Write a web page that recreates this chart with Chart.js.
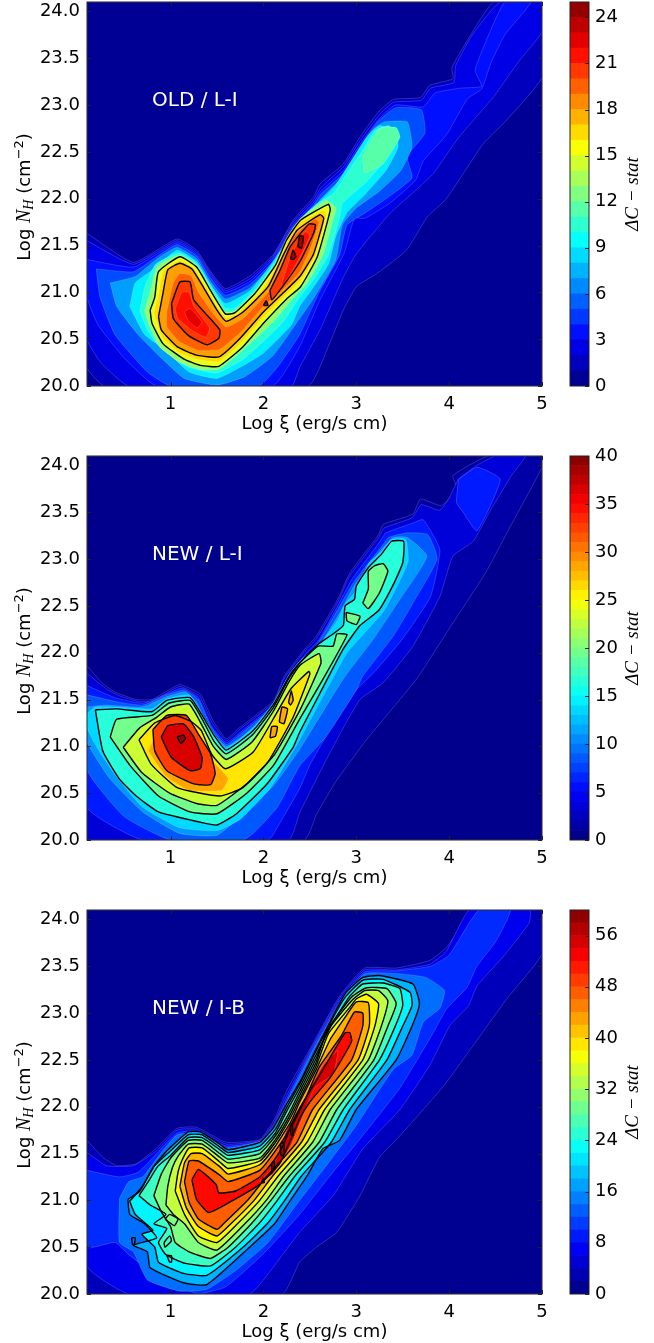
<!DOCTYPE html>
<html>
<head>
<meta charset="utf-8">
<script src="https://cdn.jsdelivr.net/npm/chart.js@4"></script>
<style>
  html, body { margin: 0; background: #fff; }
  canvas { position: absolute; }
</style>
</head>
<body>
<canvas id="old" width="560" height="435" style="left:0;top:0"></canvas>
<canvas id="oldBar" width="94" height="445" style="left:560px;top:-10px"></canvas>
<canvas id="new" width="560" height="435" style="left:0;top:454px"></canvas>
<canvas id="newBar" width="94" height="445" style="left:560px;top:444px"></canvas>
<canvas id="ib" width="560" height="435" style="left:0;top:908px"></canvas>
<canvas id="ibBar" width="94" height="445" style="left:560px;top:898px"></canvas>
<script>
// axis ticks
const xTickValues = [1, 2, 3, 4, 5];
const yTickValues = [20, 20.5, 21, 21.5, 22, 22.5, 23, 23.5, 24];
const oldBarTicks = [0, 3, 6, 9, 12, 15, 18, 21, 24];
const newBarTicks = [0, 5, 10, 15, 20, 25, 30, 35, 40];
const ibBarTicks = [0, 8, 16, 24, 32, 40, 48, 56];

const plotCorners = [[0.1,20],[5,20],[5,24.1],[0.1,24.1]];

// contours, [log xi, log NH] per vertex

// OLD / L-I
const old1 = [[.1,21.63],[.6,21.32],[1.07,21.57],[1.28,21.45],[1.42,21.24],[1.59,21.04],[1.86,21.18],[2.11,21.41],[2.32,21.77],[2.54,22.02],[2.61,22.16],[2.86,22.37],[3.04,22.66],[3.25,22.94],[3.4,23.06],[3.69,23.08],[3.79,23.21],[4.04,23.28],[4.03,23.4],[4.22,23.73],[4.48,24.1],[5,24.1],[5,23.3],[4.62,22.84],[4.37,22.59],[3.97,22],[3.76,21.8],[3.54,21.45],[3.22,21.2],[3,21.06],[2.86,20.81],[2.71,20.45],[2.48,20],[.29,20],[.1,20.2]];
const old2 = [[.1,21.55],[.6,21.3],[1.07,21.55],[1.28,21.43],[1.42,21.22],[1.59,21.02],[1.86,21.15],[2.1,21.38],[2.32,21.75],[2.54,21.99],[2.62,22.12],[2.86,22.34],[3.04,22.62],[3.25,22.9],[3.4,23.03],[3.7,23.05],[3.8,23.18],[4.05,23.24],[4.07,23.42],[4.25,23.75],[4.55,24.1],[5,24.1],[5,23.78],[4.76,23.48],[4.48,23.09],[4.1,22.65],[3.83,22.27],[3.65,22.1],[3.36,21.84],[3,21.41],[2.86,21.16],[2.61,20.6],[2.39,20.2],[2.3,20],[.55,20],[.25,20.25],[.1,20.5]];
const old3 = [[.1,21.35],[.6,21.27],[1.07,21.53],[1.28,21.41],[1.42,21.2],[1.59,21],[1.86,21.12],[2.1,21.36],[2.32,21.72],[2.54,21.96],[2.62,22.08],[2.86,22.3],[3.04,22.58],[3.25,22.86],[3.42,23],[3.72,22.98],[3.85,23.13],[4.12,23.18],[4.35,23.2],[4.28,23.37],[4.4,23.69],[4.6,24.1],[4.88,24.1],[4.6,23.75],[4.45,23.45],[4.35,23.17],[4.2,23.07],[3.97,22.68],[3.72,22.4],[3.64,22.2],[3.36,21.95],[3.09,21.79],[2.98,21.79],[2.87,21.42],[2.6,20.9],[2.39,20.42],[2.1,20],[.85,20],[.5,20.3],[.22,20.65],[.1,20.95]];
const old4 = [[.2,21.25],[.6,21.22],[.85,21.38],[1.07,21.51],[1.28,21.39],[1.42,21.17],[1.59,20.97],[1.86,21.09],[2.1,21.33],[2.32,21.7],[2.54,21.93],[2.62,22.05],[2.85,22.26],[3.03,22.54],[3.23,22.82],[3.42,22.97],[3.7,22.95],[3.74,22.7],[3.55,22.45],[3.6,22.22],[3.35,22.02],[3.1,21.85],[2.9,21.72],[2.82,21.4],[2.6,21],[2.39,20.55],[2.15,20.2],[1.95,20],[1,20],[.75,20.15],[.4,20.55],[.24,20.95]];
const old6 = [[.35,21.1],[.62,21.17],[.87,21.37],[1.07,21.48],[1.28,21.36],[1.42,21.13],[1.59,20.93],[1.86,21.05],[2.1,21.3],[2.32,21.66],[2.54,21.88],[2.62,22],[2.82,22.2],[3,22.48],[3.18,22.74],[3.3,22.82],[3.55,22.82],[3.6,22.55],[3.48,22.3],[3.25,22.08],[3,21.9],[2.85,21.72],[2.78,21.35],[2.55,20.95],[2.39,20.72],[2.1,20.32],[1.8,20.1],[1.5,20.01],[1.15,20.08],[.9,20.3],[.65,20.55],[.42,20.85]];
const old8 = [[.56,20.85],[.62,21.1],[.82,21.25],[1.07,21.45],[1.28,21.33],[1.42,21.1],[1.59,20.88],[1.86,21.02],[2.12,21.35],[2.3,21.62],[2.5,21.85],[2.6,21.96],[2.78,22.15],[2.96,22.42],[3.12,22.67],[3.25,22.78],[3.42,22.72],[3.45,22.55],[3.32,22.3],[3.1,22.05],[2.9,21.85],[2.78,21.6],[2.7,21.3],[2.5,21],[2.39,20.85],[2.3,20.65],[2,20.35],[1.75,20.2],[1.5,20.08],[1.2,20.15],[.95,20.38],[.72,20.55]];
const old10 = [[.67,20.8],[.72,21.05],[.84,21.3],[1.09,21.42],[1.28,21.31],[1.43,21.07],[1.59,20.83],[1.69,20.83],[1.91,21.03],[2.13,21.33],[2.27,21.6],[2.42,21.8],[2.58,21.95],[2.75,22.05],[2.92,22.3],[3.06,22.5],[3.2,22.72],[3.35,22.78],[3.47,22.66],[3.3,22.4],[3.1,22.17],[2.85,21.95],[2.82,21.8],[2.7,21.4],[2.55,21.15],[2.39,20.95],[2.2,20.67],[1.8,20.3],[1.5,20.14],[1.2,20.2],[.9,20.4],[.75,20.6]];
const old11 = [[3.09,22.27],[3.07,22.44],[3.25,22.75],[3.43,22.76],[3.47,22.66],[3.29,22.37]];
const old12 = [[.72,20.8],[.78,21],[.86,21.28],[1.1,21.4],[1.28,21.29],[1.43,21.04],[1.59,20.79],[1.69,20.8],[1.91,21.01],[2.13,21.31],[2.25,21.58],[2.4,21.79],[2.68,21.98],[2.78,21.9],[2.75,21.78],[2.64,21.4],[2.47,21.1],[2.33,20.95],[2.1,20.68],[1.75,20.36],[1.52,20.18],[1.3,20.18],[1.1,20.25],[.88,20.42],[.77,20.65]];
const old14 = [[.78,20.81],[.83,20.95],[.87,21.22],[1.1,21.38],[1.28,21.27],[1.43,21.02],[1.59,20.77],[1.69,20.78],[1.91,20.99],[2.13,21.29],[2.25,21.56],[2.4,21.77],[2.7,21.94],[2.72,21.88],[2.58,21.38],[2.4,21.06],[2.25,20.93],[2,20.67],[1.78,20.42],[1.52,20.21],[1.32,20.22],[1.14,20.29],[.92,20.45],[.8,20.67]];
const old16 = [[.82,20.78],[.87,20.98],[.92,21.23],[1.1,21.34],[1.25,21.26],[1.39,21.04],[1.54,20.79],[1.6,20.73],[1.73,20.78],[1.98,21.02],[2.18,21.35],[2.33,21.7],[2.65,21.88],[2.68,21.83],[2.56,21.39],[2.4,21.12],[2.23,20.96],[2,20.73],[1.76,20.46],[1.52,20.26],[1.3,20.28],[1.1,20.35],[.91,20.52]];
const old17 = [[.87,20.74],[.92,21],[.97,21.24],[1.1,21.31],[1.23,21.25],[1.35,21.06],[1.5,20.81],[1.6,20.69],[1.78,20.79],[2.05,21.06],[2.22,21.41],[2.36,21.66],[2.61,21.83],[2.65,21.79],[2.54,21.41],[2.4,21.18],[2.22,21],[2,20.79],[1.75,20.51],[1.52,20.31],[1.28,20.33],[1.07,20.42],[.9,20.6]];
const old19 = [[.96,20.8],[1.03,21.1],[1.1,21.2],[1.22,21.18],[1.3,21],[1.47,20.76],[1.6,20.63],[1.78,20.72],[2.05,21],[2.2,21.3],[2.33,21.6],[2.55,21.78],[2.6,21.75],[2.5,21.45],[2.38,21.2],[2.2,21.02],[2,20.85],[1.75,20.57],[1.53,20.39],[1.3,20.38],[1.1,20.47],[.96,20.63]];
const old20a = [[1.01,20.88],[1.1,21.11],[1.21,21.11],[1.25,20.92],[1.53,20.6],[1.52,20.51],[1.39,20.44],[1.19,20.54],[1.03,20.72]];
const old20b = [[2.07,21.02],[2.18,21.24],[2.29,21.49],[2.49,21.73],[2.56,21.72],[2.54,21.63],[2.4,21.34],[2.22,21.08],[2.09,20.92]];
const old21a = [[1.05,20.82],[1.12,21],[1.2,21],[1.25,20.85],[1.42,20.62],[1.38,20.52],[1.22,20.6],[1.08,20.72]];
const old21b = [[2.2,21.1],[2.3,21.4],[2.45,21.65],[2.5,21.6],[2.38,21.35],[2.2,21.05]];
const old22 = [[1.15,20.79],[1.21,20.83],[1.34,20.68],[1.28,20.62],[1.19,20.7]];
const old23a = [[2.29,21.36],[2.32,21.45],[2.35,21.38],[2.32,21.35]];
const old23b = [[2.37,21.49],[2.39,21.6],[2.43,21.6],[2.41,21.47]];
const old23c = [[2,20.86],[2.03,20.91],[2.05,20.86]];

// NEW / L-I
const new1 = [[.1,21.86],[.27,21.67],[.4,21.58],[.63,21.5],[.8,21.5],[.96,21.59],[1.1,21.66],[1.32,21.56],[1.39,21.42],[1.46,21.27],[1.6,21.08],[1.73,21.19],[2.11,21.49],[2.22,21.74],[2.43,22.02],[2.57,22.18],[2.8,22.57],[2.93,22.85],[3.24,23.26],[3.29,23.37],[3.61,23.48],[3.69,23.64],[3.92,23.57],[4.08,23.76],[4.04,23.89],[4.42,24.1],[5,24.1],[5,23.98],[4.66,23.35],[4.39,22.85],[3.97,22.21],[3.65,21.72],[3.11,21.07],[2.77,20.61],[2.57,20.27],[2.44,20],[.1,20]];
const new2 = [[.1,21.78],[.3,21.62],[.45,21.54],[.65,21.48],[.8,21.48],[.96,21.57],[1.1,21.64],[1.31,21.54],[1.38,21.4],[1.45,21.25],[1.6,21.06],[1.73,21.17],[2.11,21.47],[2.22,21.72],[2.43,22],[2.57,22.15],[2.8,22.54],[2.93,22.82],[3.24,23.23],[3.3,23.33],[3.6,23.44],[3.7,23.58],[3.9,23.52],[4,23.65],[4.1,23.85],[4.3,24],[4.5,24.1],[4.82,24.1],[4.67,23.89],[4.44,23.51],[4.26,23.19],[4.04,23.03],[3.9,22.6],[3.61,22.07],[3.29,21.68],[3.04,21.5],[2.79,21.07],[2.57,20.65],[2.39,20.29],[2.27,20],[.1,20]];
const new5 = [[.1,21.65],[.4,21.52],[.7,21.46],[.96,21.56],[1.12,21.62],[1.3,21.52],[1.44,21.22],[1.6,21.04],[1.75,21.15],[2.11,21.45],[2.25,21.72],[2.45,21.98],[2.6,22.14],[2.8,22.5],[2.95,22.78],[3.25,23.18],[3.32,23.28],[3.6,23.38],[3.72,23.42],[3.9,23.1],[3.8,22.6],[3.5,22.15],[3.2,21.8],[2.95,21.55],[2.7,21.15],[2.5,20.8],[2.39,20.55],[2.1,20.05],[2.05,20],[.7,20],[.1,20.35]];
const new5b = [[4.1,23.85],[4.3,23.98],[4.55,23.85],[4.3,23.3],[4.15,23.5],[4.08,23.6]];
const new7 = [[.1,21.55],[.4,21.48],[.7,21.44],[.96,21.55],[1.14,21.6],[1.3,21.5],[1.44,21.2],[1.6,21.02],[1.75,21.13],[2.11,21.43],[2.27,21.72],[2.47,21.97],[2.6,22.12],[2.8,22.46],[2.97,22.75],[3.27,23.13],[3.35,23.23],[3.55,23.28],[3.77,23.26],[3.87,23],[3.61,22.53],[3.4,22.18],[3.07,21.75],[3,21.6],[2.68,21.11],[2.39,20.79],[2.15,20.35],[1.9,20.08],[1.78,20],[1,20],[.5,20.25],[.1,20.75]];
const new10 = [[.1,21.42],[.3,21.44],[.7,21.42],[.96,21.53],[1.16,21.58],[1.28,21.47],[1.42,21.18],[1.6,21],[1.78,21.11],[2.11,21.41],[2.28,21.72],[2.5,21.96],[2.62,22.1],[2.82,22.42],[2.98,22.72],[3.27,23.1],[3.4,23.23],[3.55,23.23],[3.76,23.03],[3.47,22.57],[3.18,22.14],[2.86,21.72],[2.39,20.97],[2.1,20.57],[1.8,20.3],[1.5,20.05],[1.1,20.07],[.7,20.3],[.35,20.65],[.1,21.05]];
const new12 = [[.1,21.35],[.19,21.42],[.42,21.42],[.8,21.4],[.96,21.51],[1.2,21.55],[1.33,21.36],[1.47,21.13],[1.6,20.98],[1.89,21.2],[2.11,21.47],[2.29,21.79],[2.4,21.92],[2.61,22.09],[2.8,22.35],[2.88,22.52],[2.99,22.65],[3.13,22.95],[3.27,23.08],[3.38,23.21],[3.53,23.21],[3.56,22.98],[3.45,22.73],[3.3,22.45],[3.08,22.2],[2.9,22],[2.65,21.55],[2.39,21.07],[2.07,20.55],[1.75,20.22],[1.5,20.1],[1.1,20.13],[.7,20.35],[.4,20.7],[.2,21],[.1,21.2]];
const new15 = [[.19,21.39],[.42,21.4],[.8,21.37],[.96,21.49],[1.21,21.52],[1.34,21.33],[1.48,21.1],[1.6,20.96],[1.89,21.17],[2.11,21.45],[2.29,21.77],[2.4,21.9],[2.59,22.09],[2.75,22.2],[2.86,22.29],[2.88,22.5],[2.98,22.57],[3,22.71],[3.13,22.91],[3.27,23.05],[3.38,23.19],[3.51,23.19],[3.5,22.96],[3.4,22.73],[3.24,22.45],[3.04,22.29],[2.86,22.04],[2.61,21.57],[2.39,21.15],[2.32,20.99],[2.04,20.6],[1.71,20.28],[1.5,20.16],[1.32,20.19],[.87,20.3],[.63,20.47],[.45,20.65],[.27,20.95]];
const new18 = [[.35,21.1],[.42,21.29],[.8,21.33],[.98,21.46],[1.21,21.49],[1.34,21.29],[1.47,21.05],[1.6,20.92],[1.88,21.12],[2.11,21.42],[2.27,21.72],[2.4,21.9],[2.59,22.07],[2.75,22.07],[2.79,22.2],[2.9,22.19],[2.62,21.68],[2.39,21.29],[2.11,20.8],[1.82,20.5],[1.5,20.28],[1.21,20.3],[.87,20.47],[.56,20.8]];
const new18b = [[2.89,22.43],[3.04,22.39],[3,22.3],[2.9,22.34]];
const new18c = [[3.07,22.53],[3.13,22.68],[3.13,22.87],[3.2,22.93],[3.29,22.95],[3.34,22.87],[3.25,22.64],[3.13,22.47]];
const new21 = [[.49,20.99],[.67,21.2],[.85,21.31],[1,21.42],[1.2,21.45],[1.33,21.24],[1.46,21],[1.6,20.86],[1.88,21.05],[2.11,21.38],[2.27,21.68],[2.4,21.87],[2.6,21.99],[2.62,21.89],[2.4,21.4],[2.11,20.9],[1.82,20.6],[1.5,20.37],[1.28,20.39],[.99,20.5],[.69,20.72]];
const new25 = [[.66,21.07],[.83,21.25],[1.05,21.33],[1.23,21.26],[1.33,21.17],[1.44,20.92],[1.59,20.76],[1.89,20.94],[2.11,21.3],[2.3,21.62],[2.49,21.8],[2.5,21.77],[2.32,21.31],[2.04,20.82],[1.78,20.56],[1.53,20.47],[1.07,20.56],[.79,20.81]];
const new27 = [[.76,20.95],[.92,21.28],[1.1,21.32],[1.25,21.2],[1.4,20.9],[1.62,20.66],[1.55,20.53],[1.2,20.53],[.95,20.68]];
const new27a = [[2.07,21.09],[2.09,21.21],[2.15,21.21],[2.13,21.11]];
const new27b = [[2.17,21.26],[2.2,21.42],[2.26,21.4],[2.22,21.24]];
const new27c = [[2.27,21.47],[2.3,21.59],[2.32,21.49],[2.29,21.44]];
const new30 = [[.81,21.18],[.96,21.33],[1.17,21.33],[1.3,21.13],[1.43,20.92],[1.48,20.71],[1.43,20.59],[1.25,20.6],[.96,20.74],[.83,20.95]];
const new35 = [[.9,21.1],[.97,21.22],[1.14,21.24],[1.25,21.1],[1.34,20.88],[1.32,20.76],[1.21,20.74],[1.01,20.88],[.93,21.03]];
const new38 = [[1.07,21.1],[1.14,21.12],[1.16,21.08],[1.11,21.03]];

// NEW / I-B
const ib2 = [[.1,21.64],[.27,21.46],[.42,21.37],[.63,21.39],[.85,21.56],[1.07,21.77],[1.28,21.78],[1.6,21.62],[1.96,21.65],[2.11,21.85],[2.25,22.17],[2.53,22.67],[2.82,23.18],[3.09,23.48],[3.43,23.48],[3.79,23.56],[3.97,23.7],[4.28,24.1],[5,24.1],[5,23.63],[4.62,23.15],[4.22,22.6],[3.94,22.22],[3.47,21.69],[3.25,21.46],[3.04,21.05],[2.79,20.66],[2.57,20.5],[2.39,20.34],[2.2,20],[.1,20]];
const ib5 = [[.1,21.51],[.31,21.37],[.6,21.37],[.85,21.53],[1.07,21.75],[1.28,21.76],[1.6,21.6],[1.96,21.64],[2.11,21.82],[2.25,22.12],[2.53,22.65],[2.82,23.16],[3.09,23.46],[3.43,23.46],[3.79,23.52],[3.97,23.66],[4.22,24.1],[4.87,24.1],[4.86,23.96],[4.58,23.6],[4.3,23.29],[4.21,23.08],[4.01,22.87],[3.79,22.44],[3.47,21.97],[3.07,21.55],[2.75,21.05],[2.39,20.66],[2,20.15],[1.85,20],[.55,20],[.1,20.3]];
const ib8 = [[.1,21.32],[.45,21.25],[.65,21.3],[.85,21.5],[1.07,21.72],[1.28,21.74],[1.6,21.58],[1.96,21.63],[2.11,21.8],[2.25,22.08],[2.53,22.63],[2.82,23.13],[3.09,23.44],[3.43,23.45],[3.8,23.5],[4,23.62],[4.32,24.1],[4.66,24.1],[4.5,23.76],[4.3,23.5],[4.19,23.27],[3.97,23.04],[3.83,22.79],[3.47,22.2],[3.06,21.68],[2.7,21.24],[2.39,20.85],[2,20.43],[1.6,20.08],[1.3,20],[.85,20.2],[.55,20.42],[.4,20.55],[.1,20.5]];
const ib12 = [[.45,21.02],[.55,21.2],[.7,21.25],[.87,21.47],[1.07,21.7],[1.28,21.71],[1.6,21.56],[1.96,21.63],[2.11,21.78],[2.25,22.05],[2.53,22.6],[2.82,23.1],[3.09,23.42],[3.45,23.42],[3.75,23.38],[3.95,23.24],[3.9,23.05],[3.72,22.9],[3.6,22.55],[3.4,22.4],[3,21.8],[2.7,21.4],[2.39,21],[2.05,20.55],[1.7,20.25],[1.39,20.05],[1.1,20.03],[.75,20.15],[.6,20.45],[.45,20.55]];
const ib16 = [[.54,21.01],[.67,21.1],[.81,21.35],[.96,21.53],[1.19,21.73],[1.32,21.73],[1.53,21.6],[1.62,21.54],[1.96,21.62],[2.11,21.78],[2.25,22.03],[2.39,22.26],[2.57,22.62],[2.75,22.97],[2.89,23.22],[3.07,23.38],[3.25,23.4],[3.61,23.31],[3.68,23.1],[3.6,22.86],[3.43,22.5],[3,21.97],[2.82,21.64],[2.64,21.55],[2.47,21.26],[2.29,21],[2.12,20.75],[1.85,20.5],[1.39,20.1],[1.14,20.12],[.78,20.28],[.75,20.45],[.6,20.52],[.85,20.6],[.72,20.75],[.56,20.85]];
const ib20 = [[.56,20.99],[.69,21.14],[.83,21.37],[.98,21.51],[1.19,21.7],[1.34,21.7],[1.53,21.57],[1.62,21.51],[1.96,21.58],[2.13,21.76],[2.25,21.99],[2.39,22.24],[2.57,22.6],[2.75,22.95],[2.89,23.18],[3.07,23.35],[3.29,23.36],[3.58,23.22],[3.6,23.08],[3.5,22.86],[3.33,22.5],[2.93,21.97],[2.73,21.62],[2.41,21.26],[2.23,21],[2.04,20.75],[1.78,20.5],[1.39,20.2],[1.14,20.22],[.87,20.34],[.83,20.5],[.69,20.64],[.81,20.68],[.62,20.85]];
const ib24 = [[.66,21.05],[.76,21.2],[.86,21.36],[1,21.48],[1.19,21.67],[1.34,21.67],[1.53,21.54],[1.62,21.48],[1.96,21.54],[2.13,21.72],[2.25,21.95],[2.39,22.2],[2.57,22.56],[2.75,22.9],[2.93,23.18],[3.07,23.31],[3.29,23.32],[3.47,23.26],[3.5,23.08],[3.42,22.86],[3.25,22.5],[2.86,21.97],[2.66,21.62],[2.34,21.26],[2.15,21],[1.95,20.75],[1.7,20.5],[1.43,20.3],[1.15,20.33],[.95,20.42],[.87,20.55],[.96,20.7],[.82,20.75],[.95,20.85],[.78,20.95]];
const ib28 = [[.82,21.05],[.9,21.28],[1,21.45],[1.19,21.64],[1.34,21.64],[1.53,21.5],[1.62,21.44],[1.96,21.5],[2.13,21.69],[2.27,21.92],[2.39,22.16],[2.57,22.52],[2.71,22.85],[2.95,23.17],[3.11,23.27],[3.33,23.26],[3.43,23.1],[3.34,22.86],[3.19,22.5],[2.79,21.97],[2.6,21.62],[2.28,21.26],[2.08,21],[1.87,20.75],[1.62,20.5],[1.43,20.38],[1.2,20.45],[1.05,20.55],[1,20.72],[.9,20.88]];
const ib32 = [[.95,20.95],[.97,21.15],[1.02,21.35],[1.08,21.47],[1.19,21.6],[1.34,21.6],[1.53,21.46],[1.62,21.4],[1.96,21.45],[2.13,21.65],[2.28,21.9],[2.39,22.12],[2.57,22.48],[2.68,22.8],[2.95,23.13],[3.09,23.24],[3.24,23.24],[3.34,23.13],[3.27,22.86],[3.13,22.5],[2.72,21.97],[2.53,21.62],[2.22,21.26],[2.03,21],[1.8,20.75],[1.5,20.47],[1.3,20.55],[1.15,20.75],[1.03,20.85]];
const ib36 = [[1.05,21.1],[1.08,21.3],[1.12,21.42],[1.2,21.56],[1.34,21.56],[1.53,21.41],[1.62,21.34],[1.96,21.42],[2.13,21.62],[2.29,21.88],[2.39,22.08],[2.57,22.44],[2.7,22.78],[2.93,23.06],[3,23.15],[3.11,23.2],[3.24,23.1],[3.2,22.86],[3.07,22.5],[2.66,21.97],[2.47,21.62],[2.16,21.26],[1.96,21],[1.72,20.75],[1.5,20.55],[1.3,20.62],[1.15,20.85]];
const ib40 = [[1.1,21.15],[1.15,21.4],[1.22,21.5],[1.34,21.5],[1.53,21.36],[1.62,21.28],[1.96,21.38],[2.13,21.58],[2.3,21.85],[2.39,22.05],[2.57,22.4],[2.72,22.72],[2.89,22.97],[3,23.12],[3.13,23.11],[3.14,22.86],[3.02,22.5],[2.6,21.97],[2.41,21.62],[2.1,21.26],[1.9,21],[1.65,20.75],[1.5,20.62],[1.3,20.72],[1.17,20.92]];
const ib44 = [[1.15,21.2],[1.2,21.42],[1.3,21.42],[1.53,21.27],[1.62,21.2],[1.96,21.32],[2.13,21.53],[2.32,21.82],[2.45,22.08],[2.6,22.42],[2.84,22.76],[2.98,23.01],[3.07,23],[3.07,22.86],[2.95,22.5],[2.53,21.97],[2.36,21.62],[2.04,21.26],[1.83,21],[1.57,20.75],[1.5,20.69],[1.3,20.8],[1.2,20.98]];
const ib50 = [[1.23,21.22],[1.3,21.33],[1.49,21.17],[1.52,21.08],[1.7,21.1],[1.96,21.25],[2.11,21.42],[2.22,21.6],[2.29,21.78],[2.4,22],[2.6,22.33],[2.75,22.58],[2.88,22.79],[2.93,22.79],[2.95,22.7],[2.84,22.5],[2.71,22.3],[2.5,22.05],[2.39,21.87],[2.18,21.4],[1.96,21.17],[1.6,20.96],[1.41,20.87],[1.28,21.01]];
const ib54 = [[1.96,21.2],[2.1,21.35],[2.25,21.75],[2.45,22.1],[2.65,22.45],[2.8,22.6],[2.75,22.35],[2.55,22.2],[2.3,21.6],[2.1,21.28]];
const ibIslandA = [[.94,20.8],[.99,20.85],[1.08,20.8],[1.04,20.73]];
const ibIslandB = [[.93,20.55],[.99,20.62],[1.01,20.57],[.94,20.5]];
const ibIslandC = [[.96,20.41],[1.01,20.41],[1.01,20.34],[.99,20.34]];
const ibIslandD = [[.58,20.6],[.62,20.6],[.61,20.53],[.59,20.53]];
const ibPeakA = [[2.29,21.81],[2.31,21.82],[2.32,21.69],[2.3,21.69]];
const ibPeakB = [[2.18,21.6],[2.22,21.62],[2.22,21.49],[2.19,21.48]];
const ibPeakC = [[2.09,21.4],[2.12,21.42],[2.11,21.32],[2.09,21.32]];
const ibPeakD = [[2,21.24],[1.98,21.19],[2.01,21.19]];

// [contour value, polygon], filled from the lowest up
const oldBands = [[0,plotCorners],[1,old1],[2,old2],[3,old3],[4,old4],[6,old6],[8,old8],[10,old10],[11,old11],[12,old12],[14,old14],[16,old16],[17,old17],[19,old19],[20,old20a],[20,old20b],[21,old21a],[21,old21b],[22,old22],[23,old23a],[23,old23b],[23,old23c]];
const newBands = [[0,plotCorners],[1,new1],[2,new2],[5,new5],[5,new5b],[7,new7],[10,new10],[12,new12],[15,new15],[18,new18],[18,new18b],[18,new18c],[21,new21],[25,new25],[27,new27],[27,new27a],[27,new27b],[27,new27c],[30,new30],[35,new35],[38,new38]];
const ibBands = [[0,plotCorners],[2,ib2],[5,ib5],[8,ib8],[12,ib12],[16,ib16],[20,ib20],[24,ib24],[28,ib28],[32,ib32],[36,ib36],[40,ib40],[44,ib44],[50,ib50],[54,ib54],[56,ibPeakA],[56,ibPeakB],[56,ibPeakC],[56,ibPeakD]];

// black contours
const oldBlack = [old14, old17, old20a, old20b, old23a, old23b, old23c];
const newBlack = [new15, new18, new18b, new18c, new21, new25, new27a, new27b, new27c, new30, new35, new38];
const ibBlack = [ib16, ib20, ib24, ib28, ib32, ib36, ib40, ib44, ib50, ibIslandA, ibIslandB, ibIslandC, ibIslandD, ibPeakA, ibPeakB, ibPeakC, ibPeakD];

const FONT = '"DejaVu Sans"';
const MATH = '"Liberation Serif"';

function jet(t) {
    const c = v => Math.round(255 * Math.min(1, Math.max(0, 1.5 - Math.abs(4 * t - v))));
    return `rgb(${c(3)},${c(2)},${c(1)})`;
}

function closed(points) {
    return points.concat([points[0]]).map(p => ({ x: p[0], y: p[1] }));
}

function contourDatasets(bands, blackLines, maxValue) {
    const levels = [...new Set(bands.map(b => b[0]))];
    const fills = bands.map(([level, points]) => {
        const next = levels[levels.indexOf(level) + 1];
        const mid = next === undefined ? level + 1 : (level + next) / 2;
        return {
            data: closed(points),
            showLine: true,
            fill: 'shape',
            backgroundColor: jet(mid / maxValue),
            borderColor: 'rgba(255,255,255,0.25)',
            borderWidth: 0.7,
            pointRadius: 0,
            tension: 0.15
        };
    });
    const lines = blackLines.map(points => ({
        data: closed(points),
        showLine: true,
        fill: false,
        borderColor: '#000',
        borderWidth: 1.4,
        pointRadius: 0,
        tension: 0.15
    }));
    // first dataset is painted last
    return fills.concat(lines).reverse();
}

// ticks point inward and the frame goes round the whole plot
const frameTicks = {
    id: 'frameTicks',
    afterDraw(chart) {
        const { ctx, chartArea: a, scales } = chart;
        const isBar = chart.config.type === 'bar';
        ctx.save();
        ctx.strokeStyle = '#222';
        ctx.lineWidth = 1;
        ctx.strokeRect(a.left, a.top, a.right - a.left, a.bottom - a.top);
        ctx.beginPath();
        scales.y.ticks.forEach(t => {
            const y = Math.round(scales.y.getPixelForValue(t.value)) + 0.5;
            ctx.moveTo(a.right, y); ctx.lineTo(a.right - 4, y);
            if (!isBar) { ctx.moveTo(a.left, y); ctx.lineTo(a.left + 4, y); }
        });
        if (!isBar) {
            scales.x.ticks.forEach(t => {
                const x = Math.round(scales.x.getPixelForValue(t.value)) + 0.5;
                ctx.moveTo(x, a.bottom); ctx.lineTo(x, a.bottom - 4);
                ctx.moveTo(x, a.top); ctx.lineTo(x, a.top + 4);
            });
        }
        ctx.stroke();
        ctx.restore();
    }
};

const panelTitle = {
    id: 'panelTitle',
    afterDraw(chart) {
        const o = chart.options.plugins.panelTitle;
        const { ctx, scales } = chart;
        ctx.save();
        ctx.fillStyle = '#fff';
        ctx.font = `20px ${FONT}`;
        ctx.textBaseline = 'middle';
        ctx.fillText(o.text, scales.x.getPixelForValue(o.x), scales.y.getPixelForValue(o.y));
        ctx.restore();
    }
};

// Log N_H (cm^-2) needs a subscript and a superscript, so it goes on piece by piece
const yAxisTitle = {
    id: 'yAxisTitle',
    afterDraw(chart) {
        const { ctx, chartArea: a } = chart;
        const runs = [
            ['Log ', `18px ${FONT}`, 0],
            ['N', `italic 20px ${MATH}`, 0],
            ['H', `italic 14px ${MATH}`, 3],
            [' (cm', `18px ${FONT}`, 0],
            ['−2', `13px ${FONT}`, -7],
            [')', `18px ${FONT}`, 0]
        ];
        ctx.save();
        ctx.fillStyle = '#000';
        let total = 0;
        runs.forEach(r => { ctx.font = r[1]; total += ctx.measureText(r[0]).width; });
        ctx.translate(30, (a.top + a.bottom) / 2 + 3);
        ctx.rotate(-Math.PI / 2);
        let x = -total / 2;
        runs.forEach(r => {
            ctx.font = r[1];
            ctx.fillText(r[0], x, r[2]);
            x += ctx.measureText(r[0]).width;
        });
        ctx.restore();
    }
};

const barTitle = {
    id: 'barTitle',
    afterDraw(chart) {
        const { ctx, chartArea: a } = chart;
        ctx.save();
        ctx.fillStyle = '#000';
        ctx.font = `italic 19px ${MATH}`;
        ctx.textAlign = 'center';
        ctx.translate(78, (a.top + a.bottom) / 2);
        ctx.rotate(-Math.PI / 2);
        ctx.fillText('ΔC − stat', 0, 0);
        ctx.restore();
    }
};

function drawPanel(id, bands, blackLines, maxValue, title) {
    new Chart(document.getElementById(id), {
        type: 'scatter',
        data: { datasets: contourDatasets(bands, blackLines, maxValue) },
        options: {
            responsive: false,
            animation: false,
            layout: { padding: { top: 2, right: 18, bottom: 0, left: 0 } },
            plugins: {
                legend: { display: false },
                tooltip: { enabled: false },
                panelTitle: { text: title, x: 0.8, y: 23.05 }
            },
            scales: {
                x: {
                    type: 'linear', min: 0.1, max: 5,
                    afterBuildTicks: s => { s.ticks = xTickValues.map(value => ({ value })); },
                    afterFit: s => { s.height = 49; s.paddingLeft = 0; s.paddingRight = 0; },
                    grid: { display: false, drawTicks: false },
                    border: { display: false },
                    ticks: { color: '#000', font: { family: FONT, size: 18 }, padding: 8, maxRotation: 0, callback: v => v },
                    title: { display: true, text: 'Log ξ (erg/s cm)', color: '#000', font: { family: FONT, size: 18 }, padding: { top: 0, bottom: 0 } }
                },
                y: {
                    type: 'linear', min: 20, max: 24.1,
                    afterBuildTicks: s => { s.ticks = yTickValues.map(value => ({ value })); },
                    afterFit: s => { s.width = 87; s.paddingTop = 0; s.paddingBottom = 0; },
                    grid: { display: false, drawTicks: false },
                    border: { display: false },
                    ticks: { color: '#000', font: { family: FONT, size: 18 }, padding: 7, callback: v => v.toFixed(1) }
                }
            }
        },
        plugins: [frameTicks, panelTitle, yAxisTitle]
    });
}

function drawColorbar(id, bandCount, maxValue, tickValues) {
    const datasets = Array.from({ length: bandCount }, (_, i) => ({
        data: [maxValue / bandCount],
        backgroundColor: jet((i + 0.5) / bandCount),
        barPercentage: 1,
        categoryPercentage: 1
    }));
    new Chart(document.getElementById(id), {
        type: 'bar',
        data: { labels: [''], datasets },
        options: {
            responsive: false,
            animation: false,
            layout: { padding: { top: 12, right: 0, bottom: 0, left: 10 } },
            plugins: { legend: { display: false }, tooltip: { enabled: false } },
            scales: {
                x: {
                    stacked: true,
                    afterFit: s => { s.height = 49; s.paddingLeft = 0; s.paddingRight = 0; },
                    grid: { display: false, drawTicks: false },
                    border: { display: false },
                    ticks: { display: false }
                },
                y: {
                    stacked: true, position: 'right', min: 0, max: maxValue,
                    afterBuildTicks: s => { s.ticks = tickValues.map(value => ({ value })); },
                    afterFit: s => { s.width = 65; s.paddingTop = 0; s.paddingBottom = 0; },
                    grid: { display: false, drawTicks: false },
                    border: { display: false },
                    ticks: { color: '#000', font: { family: FONT, size: 18 }, padding: 6, callback: v => v }
                }
            }
        },
        plugins: [frameTicks, barTitle]
    });
}

drawPanel('old', oldBands, oldBlack, 25, 'OLD / L-I');
drawColorbar('oldBar', 25, 25, oldBarTicks);
drawPanel('new', newBands, newBlack, 40, 'NEW / L-I');
drawColorbar('newBar', 40, 40, newBarTicks);
drawPanel('ib', ibBands, ibBlack, 60, 'NEW / I-B');
drawColorbar('ibBar', 30, 60, ibBarTicks);
</script>
</body>
</html>
